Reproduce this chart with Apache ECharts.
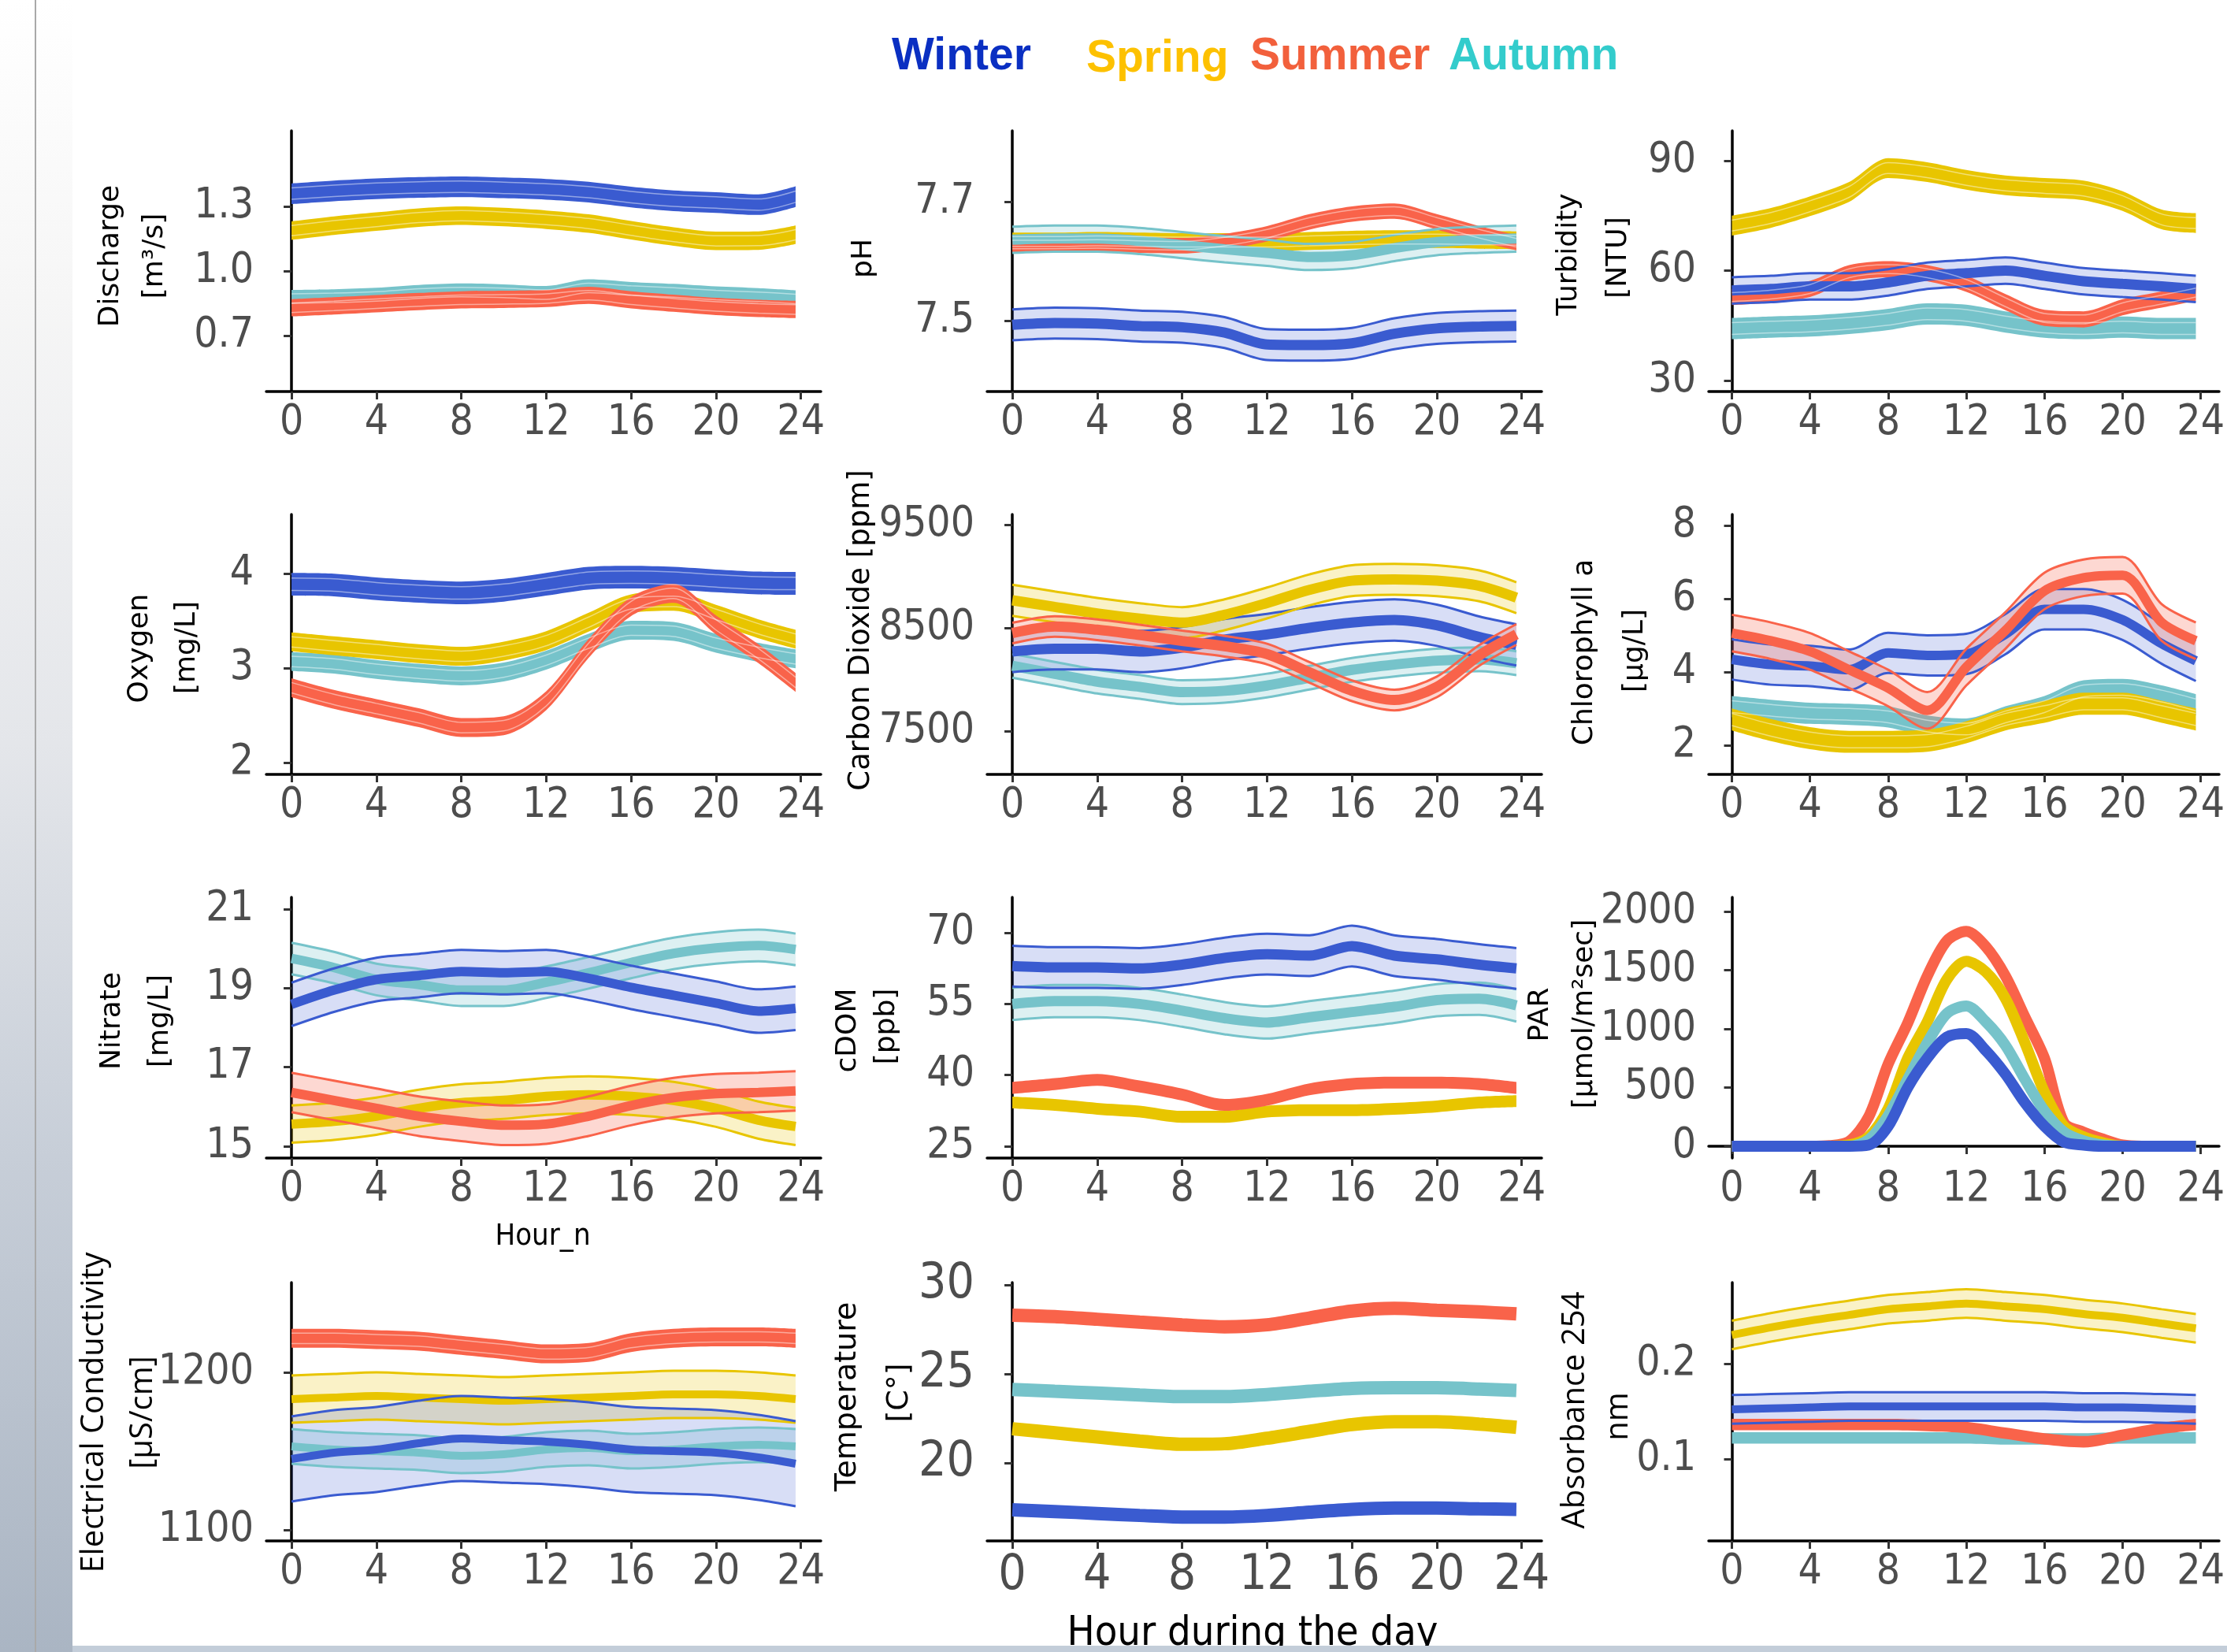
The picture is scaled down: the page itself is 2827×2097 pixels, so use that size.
<!DOCTYPE html>
<html>
<head>
<meta charset="utf-8">
<title>Diel cycles by season</title>
<script src="https://cdn.jsdelivr.net/npm/echarts@6.0.0/dist/echarts.min.js"></script>
<style>
  html, body { margin: 0; padding: 0; background: #fff; }
  #chart { width: 2827px; height: 2097px; }
</style>
</head>
<body>
<div id="chart"></div>
<script>
// hour of the day, one reading every 2 h (last one at 23:45)
const hours = [0, 2, 4, 6, 8, 10, 12, 14, 16, 18, 20, 22, 23.75];
// PAR is read hourly
const parHours = [0, 1, 2, 3, 4, 5, 6, 7, 8, 9, 10, 11, 12, 13, 14, 15, 16, 17, 18, 19, 20, 21, 22, 23, 23.75];
const hourTicks = [0, 4, 8, 12, 16, 20, 24];

// season order everywhere: winter, spring, summer, autumn
const seasons = ['Winter', 'Spring', 'Summer', 'Autumn'];

const dischargeWinter = [1.359, 1.372, 1.382, 1.388, 1.391, 1.386, 1.379, 1.366, 1.343, 1.326, 1.318, 1.308, 1.345];
const dischargeSpring = [1.187, 1.21, 1.229, 1.248, 1.257, 1.25, 1.238, 1.22, 1.189, 1.16, 1.14, 1.141, 1.168];
const dischargeSummer = [0.829, 0.838, 0.848, 0.858, 0.866, 0.868, 0.872, 0.887, 0.866, 0.85, 0.835, 0.826, 0.821];
const dischargeAutumn = [0.872, 0.875, 0.882, 0.895, 0.902, 0.898, 0.89, 0.921, 0.909, 0.9, 0.888, 0.88, 0.87];
const dischargeSpread = [0.048, 0.043, 0.04, 0.04];

const phWinter = [7.493, 7.496, 7.495, 7.491, 7.489, 7.48, 7.46, 7.459, 7.462, 7.478, 7.487, 7.49, 7.491];
const phSpring = [7.633, 7.633, 7.634, 7.633, 7.632, 7.632, 7.632, 7.634, 7.636, 7.637, 7.637, 7.636, 7.635];
const phSummer = [7.628, 7.628, 7.629, 7.627, 7.626, 7.633, 7.646, 7.666, 7.679, 7.684, 7.666, 7.646, 7.631];
const phAutumn = [7.636, 7.638, 7.638, 7.634, 7.627, 7.62, 7.614, 7.607, 7.61, 7.622, 7.632, 7.636, 7.638];
const phSpread = [0.026, 0.015, 0.013, 0.022];

const turbWinter = [54.6, 55.0, 55.7, 55.7, 56.8, 58.6, 59.3, 60.0, 58.6, 57.1, 56.4, 55.7, 55.0];
const turbSpring = [72.3, 74.4, 77.6, 81.5, 88.0, 86.9, 84.8, 83.3, 82.6, 81.9, 79.0, 74.0, 73.0];
const turbSummer = [52.8, 53.5, 55.0, 59.3, 60.4, 59.3, 56.4, 51.4, 47.1, 46.7, 50.0, 52.1, 54.0];
const turbAutumn = [44.2, 44.6, 44.9, 45.6, 46.7, 48.2, 47.8, 46.0, 44.6, 44.2, 44.6, 44.2, 44.2];
const turbSpread = [3.6, 2.7, 2.2, 2.9];

const oxyWinter = [3.886, 3.878, 3.839, 3.812, 3.795, 3.823, 3.886, 3.95, 3.961, 3.95, 3.922, 3.9, 3.895];
const oxySpring = [3.277, 3.235, 3.194, 3.152, 3.125, 3.18, 3.29, 3.485, 3.68, 3.706, 3.568, 3.415, 3.305];
const oxySummer = [2.792, 2.668, 2.571, 2.474, 2.37, 2.39, 2.654, 3.208, 3.651, 3.79, 3.457, 3.152, 2.848];
const oxyAutumn = [3.069, 3.042, 2.986, 2.945, 2.917, 2.958, 3.083, 3.263, 3.40, 3.388, 3.263, 3.166, 3.097];
const oxySpread = [0.12, 0.1, 0.1, 0.1];

const co2Winter = [8271, 8297, 8297, 8271, 8309, 8386, 8436, 8500, 8551, 8576, 8525, 8411, 8335];
const co2Spring = [8767, 8703, 8640, 8589, 8551, 8627, 8741, 8868, 8957, 8970, 8957, 8907, 8792];
const co2Summer = [8449, 8513, 8482, 8431, 8373, 8322, 8246, 8068, 7890, 7801, 7928, 8233, 8436];
const co2Autumn = [8132, 8055, 7979, 7928, 7877, 7890, 7941, 8017, 8093, 8144, 8182, 8195, 8157];
const co2Spread = [200, 150, 100, 115];

const chlWinter = [4.34, 4.2, 4.16, 4.06, 4.52, 4.45, 4.49, 5.03, 5.71, 5.71, 5.42, 4.77, 4.3];
const chlSpring = [2.7, 2.41, 2.19, 2.09, 2.09, 2.12, 2.35, 2.7, 2.91, 3.13, 3.13, 2.91, 2.7];
const chlSummer = [5.06, 4.85, 4.56, 4.06, 3.56, 2.95, 4.13, 5.13, 6.21, 6.57, 6.64, 5.35, 4.85];
const chlAutumn = [3.05, 2.95, 2.87, 2.84, 2.77, 2.52, 2.44, 2.77, 3.05, 3.48, 3.52, 3.34, 3.1];
const chlSpread = [0.55, 0.3, 0.5, 0.29];

const nitWinter = [18.59, 18.95, 19.22, 19.32, 19.42, 19.39, 19.42, 19.25, 19.02, 18.82, 18.62, 18.42, 18.49];
const nitSpring = [15.56, 15.63, 15.76, 15.96, 16.1, 16.16, 16.26, 16.3, 16.26, 16.16, 15.96, 15.66, 15.5];
const nitSummer = [16.36, 16.16, 15.96, 15.76, 15.63, 15.53, 15.56, 15.76, 16.03, 16.23, 16.33, 16.36, 16.4];
const nitAutumn = [19.75, 19.52, 19.22, 19.09, 18.95, 18.95, 19.15, 19.39, 19.65, 19.88, 20.02, 20.08, 19.98];
const nitSpread = [0.55, 0.47, 0.5, 0.4];

const cdomWinter = [63.0, 62.7, 62.7, 62.5, 63.3, 64.7, 65.5, 65.2, 67.2, 65.2, 64.4, 63.3, 62.5];
const cdomSpring = [34.2, 33.7, 32.9, 32.3, 31.2, 31.2, 32.3, 32.6, 32.6, 32.9, 33.4, 34.2, 34.5];
const cdomSummer = [37.3, 38.1, 39.0, 37.6, 35.9, 33.7, 34.8, 37.0, 38.1, 38.4, 38.4, 38.1, 37.3];
const cdomAutumn = [55.0, 55.6, 55.6, 55.0, 53.6, 52.0, 51.1, 52.2, 53.3, 54.4, 55.8, 56.1, 54.7];
const cdomSpread = [4.3, 1.25, 1.25, 3.4];

const parWinter = [0, 0, 0, 0, 0, 0, 0, 10, 170, 500, 750, 930, 960, 815, 615, 370, 170, 35, 10, 0, 0, 0, 0, 0, 0];
const parSpring = [0, 0, 0, 0, 0, 0, 10, 80, 320, 750, 1060, 1420, 1575, 1485, 1260, 880, 460, 170, 80, 30, 0, 0, 0, 0, 0];
const parSummer = [0, 0, 0, 0, 0, 5, 40, 250, 700, 1050, 1450, 1750, 1830, 1700, 1450, 1100, 750, 200, 120, 60, 10, 0, 0, 0, 0];
const parAutumn = [0, 0, 0, 0, 0, 0, 0, 55, 260, 570, 880, 1130, 1195, 1060, 860, 570, 300, 120, 45, 10, 0, 0, 0, 0, 0];

const ecWinter = [1145, 1149, 1151, 1155, 1158, 1157, 1156, 1154, 1151, 1150, 1149, 1146, 1142];
const ecSpring = [1183, 1184, 1185, 1184, 1183, 1182, 1183, 1184, 1185, 1186, 1186, 1185, 1183];
const ecSummer = [1221.6, 1221.6, 1220.7, 1219.8, 1217.1, 1214.4, 1211.7, 1212.6, 1218.9, 1221.6, 1222.5, 1222.5, 1221.6];
const ecAutumn = [1153, 1151, 1150, 1149, 1147, 1148, 1151, 1152, 1150, 1151, 1153, 1154, 1153];
const ecSpread = [27, 15, 6, 11];

const tempWinter = [17.38, 17.29, 17.18, 17.07, 16.98, 16.98, 17.07, 17.25, 17.41, 17.48, 17.48, 17.44, 17.41];
const tempSpring = [21.93, 21.7, 21.47, 21.24, 21.06, 21.09, 21.4, 21.78, 22.16, 22.32, 22.32, 22.19, 22.01];
const tempSummer = [28.3, 28.22, 28.07, 27.91, 27.76, 27.65, 27.76, 28.14, 28.53, 28.68, 28.57, 28.48, 28.37];
const tempAutumn = [24.13, 24.03, 23.93, 23.82, 23.73, 23.73, 23.85, 24.03, 24.19, 24.23, 24.23, 24.16, 24.08];

const absWinter = [0.152, 0.153, 0.154, 0.155, 0.155, 0.155, 0.155, 0.155, 0.155, 0.154, 0.154, 0.153, 0.152];
const absSpring = [0.230, 0.238, 0.245, 0.251, 0.257, 0.260, 0.263, 0.260, 0.257, 0.252, 0.248, 0.242, 0.237];
const absSummer = [0.136, 0.136, 0.136, 0.136, 0.136, 0.135, 0.133, 0.127, 0.121, 0.118, 0.125, 0.132, 0.136];
const absAutumn = [0.122, 0.122, 0.122, 0.122, 0.122, 0.122, 0.122, 0.121, 0.121, 0.121, 0.122, 0.122, 0.122];
const absSpread = [0.015, 0.015, 0.006, 0.006];

const seasonColors = ['#3a5bd0', '#e8c500', '#f9634a', '#76c3ca'];
const seasonFill = ['rgba(58,91,208,0.2)', 'rgba(232,197,0,0.22)', 'rgba(249,99,74,0.25)', 'rgba(118,195,202,0.25)'];
const legendColors = ['#0a2fc2', '#fdc100', '#f2603c', '#33cccc'];

const tickFont = "'Liberation Sans Narrow', 'DejaVu Sans Condensed', sans-serif";
const titleFont = "'DejaVu Sans', Verdana, sans-serif";
const boxFont = "'Open Sans', 'Noto Sans', sans-serif";

const colLeft = [338, 1253, 2169];
const rowTop = [166, 653, 1139, 1628];
const rowH = [331, 330, 331, 328];
const gridW = 704;

// style per season: 'solid' band with pale inner lines, 'fill' plain solid band,
// 'light' pale band with mean line, or plain 'line'
const panels = [
  { col: 0, row: 0, x: hours, data: [dischargeWinter, dischargeSpring, dischargeSummer, dischargeAutumn], spread: dischargeSpread,
    styles: ['solid', 'solid', 'solid', 'solid'], order: [0, 1, 3, 2], min: 0.44, max: 1.651, ticks: [0.7, 1.0, 1.3], dec: 1, lw: 12 },
  { col: 1, row: 0, x: hours, data: [phWinter, phSpring, phSummer, phAutumn], spread: phSpread,
    styles: ['light', 'solid', 'solid', 'light'], order: [0, 3, 1, 2], min: 7.381, max: 7.819, ticks: [7.5, 7.7], dec: 1, lw: 13 },
  { col: 2, row: 0, x: hours, data: [turbWinter, turbSpring, turbSummer, turbAutumn], spread: turbSpread,
    styles: ['light', 'solid', 'solid', 'solid'], order: [1, 0, 3, 2], min: 27.0, max: 98.2, ticks: [30, 60, 90], dec: 0, lw: 13 },
  { col: 0, row: 1, x: hours, data: [oxyWinter, oxySpring, oxySummer, oxyAutumn], spread: oxySpread,
    styles: ['solid', 'solid', 'solid', 'solid'], order: [0, 3, 1, 2], min: 1.875, max: 4.625, ticks: [2, 3, 4], dec: 0, lw: 12 },
  { col: 1, row: 1, x: hours, data: [co2Winter, co2Spring, co2Summer, co2Autumn], spread: co2Spread,
    styles: ['light', 'light', 'light', 'light'], order: [3, 0, 1, 2], min: 7080, max: 9599, ticks: [7500, 8500, 9500], dec: 0, lw: 13 },
  { col: 2, row: 1, x: hours, data: [chlWinter, chlSpring, chlSummer, chlAutumn], spread: chlSpread,
    styles: ['light', 'solid', 'light', 'solid'], order: [3, 1, 0, 2], min: 1.2, max: 8.3, ticks: [2, 4, 6, 8], dec: 0, lw: 12 },
  { col: 0, row: 2, x: hours, data: [nitWinter, nitSpring, nitSummer, nitAutumn], spread: nitSpread,
    styles: ['light', 'light', 'light', 'light'], order: [3, 0, 1, 2], min: 14.7, max: 21.3, ticks: [15, 17, 19, 21], dec: 0, lw: 12 },
  { col: 1, row: 2, x: hours, data: [cdomWinter, cdomSpring, cdomSummer, cdomAutumn], spread: cdomSpread,
    styles: ['light', 'fill', 'fill', 'light'], order: [3, 0, 1, 2], min: 22.5, max: 77.5, ticks: [25, 40, 55, 70], dec: 0, lw: 13 },
  { col: 2, row: 2, x: parHours, data: [parWinter, parSpring, parSummer, parAutumn], spread: null,
    styles: ['line', 'line', 'line', 'line'], order: [2, 1, 3, 0], min: -101, max: 2121, ticks: [0, 500, 1000, 1500, 2000], dec: 0, lw: 14 },
  { col: 0, row: 3, x: hours, data: [ecWinter, ecSpring, ecSummer, ecAutumn], spread: ecSpread,
    styles: ['light', 'light', 'solid', 'light'], order: [1, 3, 0, 2], min: 1093, max: 1257, ticks: [1100, 1200], dec: 0, lw: 10 },
  { col: 1, row: 3, x: hours, data: [tempWinter, tempSpring, tempSummer, tempAutumn], spread: null,
    styles: ['line', 'line', 'line', 'line'], order: [0, 1, 2, 3], min: 15.64, max: 30.13, ticks: [20, 25, 30], dec: 0, lw: 17, big: true },
  { col: 2, row: 3, x: hours, data: [absWinter, absSpring, absSummer, absAutumn], spread: absSpread,
    styles: ['light', 'light', 'fill', 'fill'], order: [1, 0, 3, 2], min: 0.014, max: 0.285, ticks: [0.1, 0.2], dec: 1, lw: 10 }
];

const grid = [], xAxis = [], yAxis = [], series = [];

panels.forEach((p, pi) => {
  grid.push({ left: colLeft[p.col], top: rowTop[p.row], width: gridW, height: rowH[p.row], containLabel: false });
  const fs = p.big ? 62 : 53;
  const axisLine = { show: true, lineStyle: { color: '#000', width: 3.5 } };
  const axisTick = (vals) => ({ show: true, customValues: vals, length: 10, lineStyle: { color: '#333', width: 3 } });
  xAxis.push({
    gridIndex: pi, type: 'value', min: -1.19, max: 24.94,
    axisLine, axisTick: axisTick(hourTicks),
    axisLabel: { customValues: hourTicks, fontFamily: tickFont, fontSize: fs, color: '#4d4d4d', margin: 14 },
    splitLine: { show: false }
  });
  yAxis.push({
    gridIndex: pi, type: 'value', min: p.min, max: p.max,
    axisLine, axisTick: axisTick(p.ticks),
    axisLabel: { customValues: p.ticks, fontFamily: tickFont, fontSize: fs, color: '#4d4d4d', margin: 16,
      formatter: v => Number(v).toFixed(p.dec) },
    splitLine: { show: false }
  });

  p.order.forEach(si => {
    const mean = p.data[si];
    const color = seasonColors[si];
    const style = p.styles[si];
    const pts = arr => p.x.map((h, k) => [h, arr[k]]);
    // value first so that stacking acts on the y dimension
    const ptsYX = arr => p.x.map((h, k) => [arr[k], h]);
    const base = { type: 'line', xAxisIndex: pi, yAxisIndex: pi, symbol: 'none', smooth: 0.3, silent: true, animation: false, name: seasons[si] };
    if (style === 'line') {
      series.push(Object.assign({}, base, { data: pts(mean), lineStyle: { color, width: p.lw, cap: 'butt' } }));
      return;
    }
    const hw = p.spread[si];
    const stack = 'band' + pi + '_' + si;
    const edge = style === 'light' ? { color, width: 3 } : { width: 0, opacity: 0 };
    const stacked = { stack, stackStrategy: 'all', encode: { x: 1, y: 0 } };
    series.push(Object.assign({}, base, stacked, { data: ptsYX(mean.map(v => v - hw)), lineStyle: edge }));
    series.push(Object.assign({}, base, stacked, { data: ptsYX(mean.map(() => 2 * hw)), lineStyle: edge,
      areaStyle: { color: style === 'light' ? seasonFill[si] : color, opacity: 1 } }));
    if (style === 'light') {
      series.push(Object.assign({}, base, { data: pts(mean), lineStyle: { color, width: p.lw } }));
    } else if (style === 'solid') {
      [0.55, -0.55].forEach(f => {
        series.push(Object.assign({}, base, { data: pts(mean.map(v => v + f * hw)),
          lineStyle: { color: 'rgba(255,255,255,0.45)', width: 1.5 } }));
      });
    }
  });
});

// axis titles and other labels
function label(text, x, y, size, family, rotated) {
  return {
    type: 'text', x, y, rotation: rotated ? Math.PI / 2 : 0, silent: true, z: 50,
    style: { text, fill: '#000', fontSize: size, fontFamily: family,
      align: 'center', verticalAlign: 'middle', textAlign: 'center', textVerticalAlign: 'middle' }
  };
}

const elements = [
  // slide background strip on the left and bottom edge
  { type: 'rect', shape: { x: 0, y: 0, width: 92, height: 2097 }, silent: true, z: 1,
    style: { fill: { type: 'linear', x: 0, y: 0, x2: 0, y2: 1, colorStops: [
      { offset: 0, color: '#ffffff' }, { offset: 0.18, color: '#f6f6f6' }, { offset: 0.45, color: '#e4e6ea' },
      { offset: 0.7, color: '#c7ced8' }, { offset: 1, color: '#aab5c3' }] } } },
  { type: 'line', shape: { x1: 45, y1: 0, x2: 45, y2: 2097 }, silent: true, z: 2, style: { stroke: '#a9a9a9', lineWidth: 2 } },
  { type: 'rect', shape: { x: 92, y: 2089, width: 2735, height: 8 }, silent: true, z: 60, style: { fill: '#c3cdd9' } },

  label('Discharge', 141, 325, 36, titleFont, true),
  label('[m³/s]', 197, 325, 36, titleFont, true),
  label('pH', 1097, 328, 36, titleFont, true),
  label('Turbidity', 1992, 323, 36, titleFont, true),
  label('[NTU]', 2055, 327, 36, titleFont, true),
  label('Oxygen', 178, 823, 36, titleFont, true),
  label('[mg/L]', 238, 822, 36, titleFont, true),
  label('Carbon Dioxide [ppm]', 1093, 800, 37, titleFont, true),
  label('Chlorophyll a', 2012, 828, 36, titleFont, true),
  label('[µg/L]', 2076, 826, 36, titleFont, true),
  label('Nitrate', 143, 1296, 36, titleFont, true),
  label('[mg/L]', 204, 1296, 36, titleFont, true),
  label('cDOM', 1077, 1308, 36, titleFont, true),
  label('[ppb]', 1126, 1303, 36, titleFont, true),
  label('PAR', 1956, 1288, 36, titleFont, true),
  label('[µmol/m²sec]', 2012, 1287, 36, titleFont, true),
  label('Electrical Conductivity', 120, 1793, 40, boxFont, true),
  label('[µS/cm]', 182, 1793, 40, boxFont, true),
  label('Temperature', 1076, 1773, 38, titleFont, true),
  label('[C°]', 1142, 1768, 38, titleFont, true),
  label('Absorbance 254', 2000, 1790, 40, boxFont, true),
  label('nm', 2055, 1798, 40, boxFont, true),
  label('Hour_n', 689, 1570, 38, tickFont, false),
  label('Hour during the day', 1590, 2074, 52, tickFont, false)
];

const legendX = [1132, 1379, 1587, 1839];
const legendY = [72, 75, 72, 72];
seasons.forEach((s, i) => {
  elements.push({
    type: 'text', x: legendX[i], y: legendY[i], silent: true, z: 50,
    style: { text: s, fill: legendColors[i], fontSize: 57, fontWeight: 'bold', fontFamily: "'Liberation Sans', Arial, sans-serif",
      align: 'left', verticalAlign: 'middle', textAlign: 'left', textVerticalAlign: 'middle' }
  });
});

const chart = echarts.init(document.getElementById('chart'), null, { renderer: 'canvas' });
chart.setOption({
  backgroundColor: '#ffffff',
  animation: false,
  grid, xAxis, yAxis, series,
  graphic: { elements }
});
</script>
</body>
</html>
